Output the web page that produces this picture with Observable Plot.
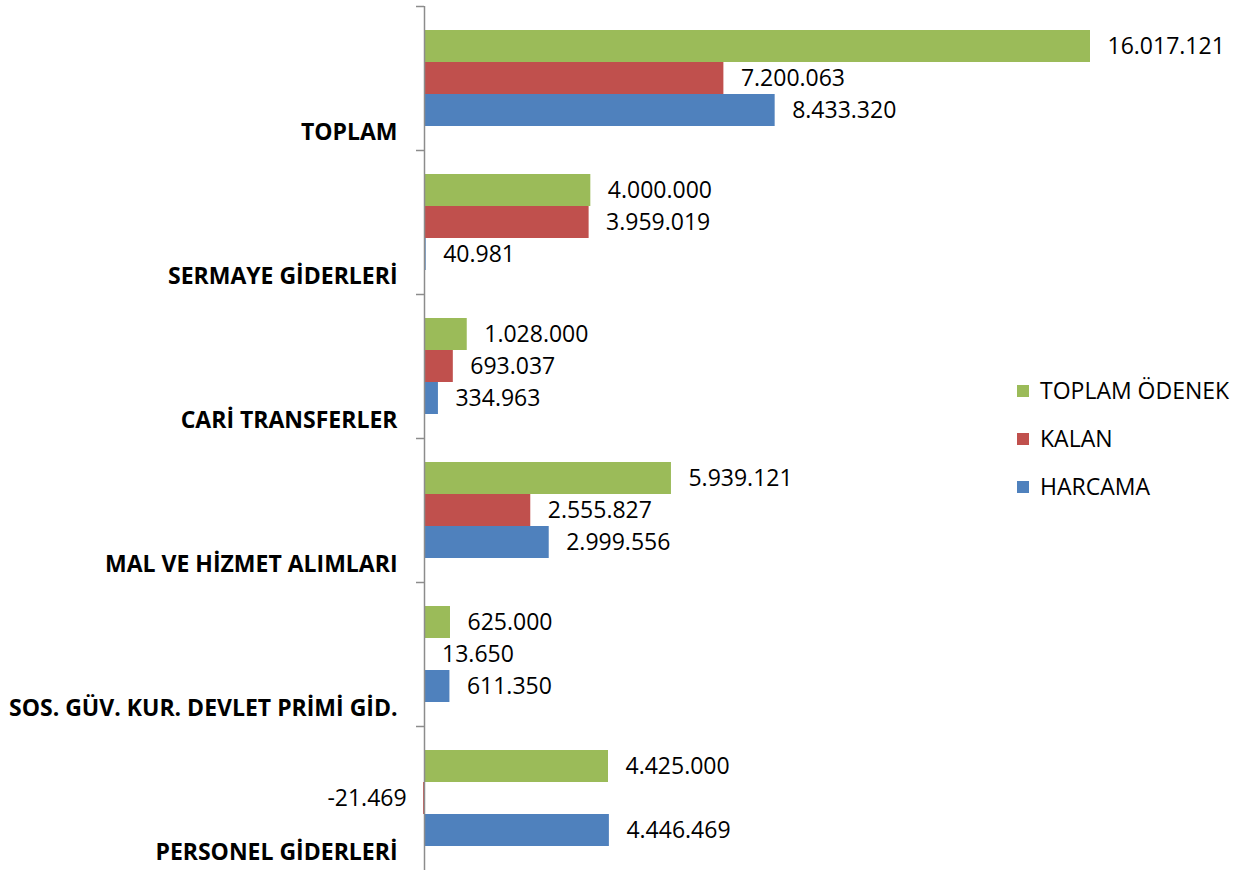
<!DOCTYPE html>
<html>
<head>
<meta charset="utf-8">
<script src="https://cdn.jsdelivr.net/npm/d3@7"></script>
<script src="https://cdn.jsdelivr.net/npm/@observablehq/plot@0.6"></script>
<style>
  html, body { margin: 0; padding: 0; background: #fff; }
  #wrap { position: relative; width: 1244px; height: 871px; font-family: "Open Sans", sans-serif; }
  #legend { position: absolute; left: 1017px; top: 366px; font-size: 23px; color: #000; }
  #legend .row { height: 48px; line-height: 48px; white-space: nowrap; display: flex; align-items: center; }
  #legend .sw { width: 12px; height: 12px; margin-right: 11px; margin-top: 2px; }
</style>
</head>
<body>
<div id="wrap"></div>
<script>
const categories = ["TOPLAM", "SERMAYE GİDERLERİ", "CARİ TRANSFERLER", "MAL VE HİZMET ALIMLARI", "SOS. GÜV. KUR. DEVLET PRİMİ GİD.", "PERSONEL GİDERLERİ"];
const series = ["TOPLAM ÖDENEK", "KALAN", "HARCAMA"];
const toplamOdenek = [16017121, 4000000, 1028000, 5939121, 625000, 4425000];
const kalan = [7200063, 3959019, 693037, 2555827, 13650, -21469];
const harcama = [8433320, 40981, 334963, 2999556, 611350, 4446469];
const colors = ["#9BBB59", "#C0504D", "#4F81BD"];

const seriesValues = [toplamOdenek, kalan, harcama];
const rows = [];
categories.forEach((c, i) => {
  series.forEach((s, j) => rows.push({category: c, series: s, value: seriesValues[j][i]}));
});

const fmt = d3.formatLocale({decimal: ",", thousands: ".", grouping: [3], currency: ["", ""], minus: "-"}).format(",d");

const chart = Plot.plot({
  width: 1244,
  height: 871,
  marginLeft: 424,
  marginRight: 154,
  marginTop: 5,
  marginBottom: 0,
  x: {domain: [0, d3.max(toplamOdenek)], axis: null},
  y: {domain: series, paddingInner: 0, paddingOuter: 0.75, axis: null},
  fy: {domain: categories, padding: 0, axis: null},
  color: {domain: series, range: colors},
  style: {fontFamily: "Open Sans", fontSize: "23px", color: "#000", background: "#fff"},
  marks: [
    Plot.barX(rows, {x: "value", y: "series", fy: "category", fill: "series"}),
    Plot.ruleX([0], {stroke: "#8c8c8c", strokeWidth: 1.5}),
    Plot.axisFy({anchor: "left", tickSize: 8, dy: -72, tickFormat: () => "", stroke: "#8c8c8c", strokeWidth: 1.5, label: null}),
    Plot.axisFy({anchor: "left", tickSize: 0, tickPadding: 27, dy: 54, fontWeight: "bold", fontSize: 23, fill: "#000", label: null}),
    Plot.text(rows.filter(d => d.value >= 0), {x: "value", y: "series", fy: "category", text: d => fmt(d.value), textAnchor: "start", dx: 17, fill: "#000", fontSize: 23}),
    Plot.text(rows.filter(d => d.value < 0), {x: "value", y: "series", fy: "category", text: d => fmt(d.value), textAnchor: "end", dx: -17, fill: "#000", fontSize: 23})
  ]
});

const wrap = document.getElementById("wrap");
wrap.appendChild(chart);

const legend = document.createElement("div");
legend.id = "legend";
series.forEach((s, j) => {
  const row = document.createElement("div");
  row.className = "row";
  const sw = document.createElement("span");
  sw.className = "sw";
  sw.style.background = colors[j];
  const t = document.createElement("span");
  t.textContent = s;
  row.appendChild(sw);
  row.appendChild(t);
  legend.appendChild(row);
});
wrap.appendChild(legend);
</script>
</body>
</html>
